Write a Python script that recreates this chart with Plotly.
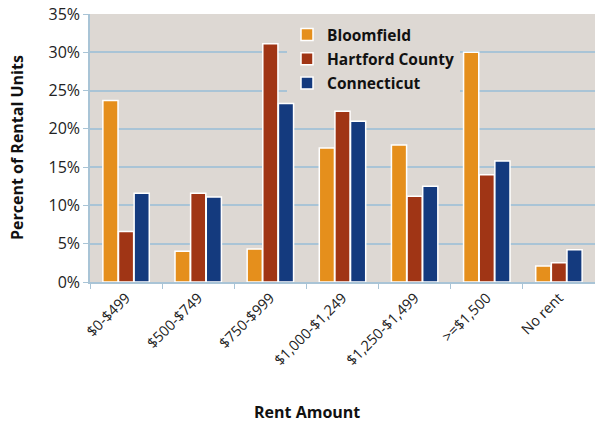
import plotly.graph_objects as go

categories = ['$0-$499', '$500-$749', '$750-$999', '$1,000-$1,249',
              '$1,250-$1,499', '>=$1,500', 'No rent']
bloomfield = [23.7, 4.0, 4.3, 17.5, 17.9, 30.0, 2.1]
hartford = [6.6, 11.6, 31.1, 22.3, 11.2, 14.0, 2.5]
connecticut = [11.6, 11.1, 23.3, 21.0, 12.5, 15.8, 4.2]
y_ticks = [0, 5, 10, 15, 20, 25, 30, 35]

series = [
    ('Bloomfield', bloomfield, '#e58f1c'),
    ('Hartford County', hartford, '#a03515'),
    ('Connecticut', connecticut, '#143a7e'),
]

fig = go.Figure()
for name, vals, color in series:
    fig.add_trace(go.Bar(
        x=categories,
        y=vals,
        name=name,
        legendgroup=name,
        marker=dict(color=color, line=dict(color='white', width=1.5)),
    ))

grid = '#a9c4d6'
fig.update_layout(
    width=595,
    height=423,
    margin=dict(l=90, r=0, t=14, b=141, autoexpand=False),
    paper_bgcolor='white',
    plot_bgcolor='#ddd8d3',
    font=dict(family='Open Sans', color='#222'),
    barmode='group',
    bargap=0.35,
    bargroupgap=0.03,
    legend=dict(
        x=(287 - 90) / 505, y=(282 - 18) / 268, xanchor='left', yanchor='top',
        bgcolor='#ddd8d3',
        font=dict(size=15.5, color='#111', family='Open Sans', weight='bold'),
        itemwidth=30,
        tracegroupgap=1,
    ),
    xaxis=dict(
        tickangle=-45,
        tickfont=dict(size=14.5),
        tickson='boundaries',
        ticks='outside', ticklen=5, tickcolor=grid,
        showline=True, linecolor=grid, linewidth=1.5,
        showgrid=False,
    ),
    yaxis=dict(
        range=[0, 35],
        tickvals=y_ticks,
        ticktext=[f'{v}%' for v in y_ticks],
        tickfont=dict(size=16),
        ticks='outside', ticklen=5, tickcolor=grid,
        showline=True, linecolor=grid, linewidth=1.5,
        gridcolor=grid, gridwidth=1.5,
        zeroline=False,
    ),
)

# axis titles placed as annotations at pixel positions
titles = [
    ('<b>Rent Amount</b>', 307, 412, 0),
    ('<b>Percent of Rental Units</b>', 17, 148, -90),
]
for text, px_x, px_y, angle in titles:
    fig.add_annotation(
        text=text, textangle=angle, showarrow=False,
        x=(px_x - 90) / 505, y=(282 - px_y) / 268,
        xref='paper', yref='paper', xanchor='center', yanchor='middle',
        font=dict(size=16, color='#111'),
    )

fig.write_html('out.html', config={'displayModeBar': False},
               post_script="document.body.style.margin='0';")
